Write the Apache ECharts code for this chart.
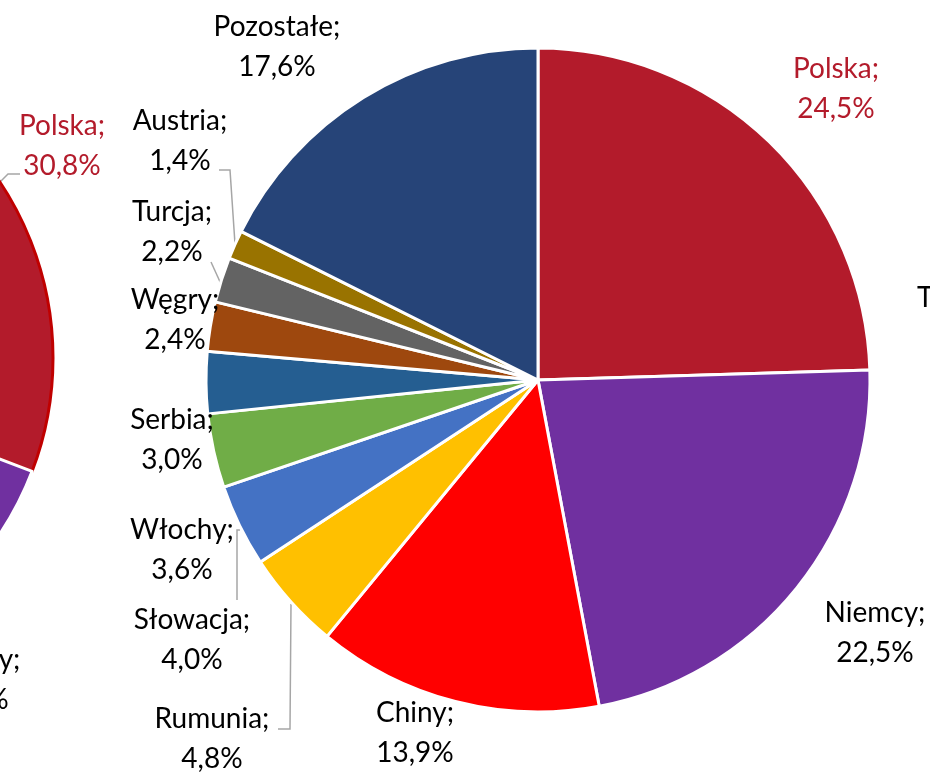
<!DOCTYPE html>
<html><head><meta charset="utf-8">
<script src="https://cdn.jsdelivr.net/npm/echarts@6/dist/echarts.min.js"></script>
<style>html,body{margin:0;padding:0;background:#fff;overflow:hidden}#c{width:930px;height:774px}</style>
</head><body><div id="c"></div><script>
// Main pie data
const mainNames = ['Polska','Niemcy','Chiny','Rumunia','Słowacja','Włochy','Serbia','Węgry','Turcja','Austria','Pozostałe'];
const mainValues = [24.5, 22.5, 13.9, 4.8, 4.0, 3.6, 3.0, 2.4, 2.2, 1.4, 17.6];
const mainColors = ['#B31B2B','#7030A0','#FF0000','#FFC000','#4472C4','#70AD47','#255E91','#9E480E','#636363','#997300','#264478'];
// Left (partially visible) pie data
const leftNames = ['Polska','Niemcy','Pozostałe'];
const leftValues = [30.8, 18.4, 50.8];
const leftColors = ['#B31B2B','#7030A0','#264478'];

// label placement (pixel centres of the two-line labels) and leader-line paths
const mainLabelPos = [[836,89],[875,633],[415,733],[212,739],[192,640],[182,550],[172,440],[175,320],[172,232],[180,141],[277,47]];
const mainLeader = [false,false,false,true,true,false,false,false,true,true,false];
const mainLeaderPath = {
  3: [[291,604],[290,729],[278,729]],
  4: [[240,530],[237,530],[237,600]],
  8: [[221,284],[211,262]],
  9: [[235,244],[230,170],[219,170]]
};
const leftLabelPos = [[62,146],[-30,680],[-400,-400]];
const leftLeader = [true,false,false];
const leftLeaderPath = { 0: [[-2,184],[8,174],[20,174]] };
const leftShowLabel = [true,true,false];

const FONT = 'Lato';
const fmt = p => p.name + ';\n' + p.value.toFixed(1).replace('.', ',') + '%';

function buildData(names, values, colors, leader, opts) {
  return names.map((n, i) => {
    const red = n === 'Polska';
    const d = {
      name: n, value: values[i],
      itemStyle: { color: colors[i] },
      label: { color: red ? '#B31B2B' : '#000000' },
      labelLine: { show: leader[i] }
    };
    if (opts && opts.redBorder && red) {
      d.itemStyle.borderColor = '#C00000';
      d.itemStyle.borderWidth = 3;
    }
    if (opts && opts.showLabel && !opts.showLabel[i]) {
      d.label.show = false;
      d.labelLine.show = false;
    }
    return d;
  });
}

const labelCommon = {
  show: true, position: 'outside', formatter: fmt,
  fontFamily: FONT, fontSize: 28, lineHeight: 40, align: 'center'
};
const lineCommon = { show: true, length: 8, length2: 8, smooth: false, lineStyle: { color: '#A6A6A6', width: 1.5 } };

function layoutFn(posArr, pathMap) {
  return p => {
    const q = posArr[p.dataIndex];
    const r = { x: q[0], y: q[1], align: 'center', verticalAlign: 'middle' };
    if (pathMap[p.dataIndex]) r.labelLinePoints = pathMap[p.dataIndex];
    return r;
  };
}

const chart = echarts.init(document.getElementById('c'), null, { renderer: 'canvas' });
chart.setOption({
  animation: false,
  backgroundColor: '#ffffff',
  graphic: [{ type: 'text', left: 917, top: 284, style: { text: 'T', font: '28px Lato', fill: '#000000' } }],
  series: [
    {
      type: 'pie', center: [-265, 358], radius: 318, startAngle: 90, clockwise: true,
      avoidLabelOverlap: false, silent: true,
      itemStyle: { borderColor: '#ffffff', borderWidth: 3 },
      label: labelCommon, labelLine: lineCommon,
      labelLayout: layoutFn(leftLabelPos, leftLeaderPath),
      data: buildData(leftNames, leftValues, leftColors, leftLeader, { redBorder: true, showLabel: leftShowLabel })
    },
    {
      type: 'pie', center: [538, 380], radius: 332, startAngle: 90, clockwise: true,
      avoidLabelOverlap: false, silent: true,
      itemStyle: { borderColor: '#ffffff', borderWidth: 3 },
      label: labelCommon, labelLine: lineCommon,
      labelLayout: layoutFn(mainLabelPos, mainLeaderPath),
      data: buildData(mainNames, mainValues, mainColors, mainLeader)
    }
  ]
});
</script></body></html>
